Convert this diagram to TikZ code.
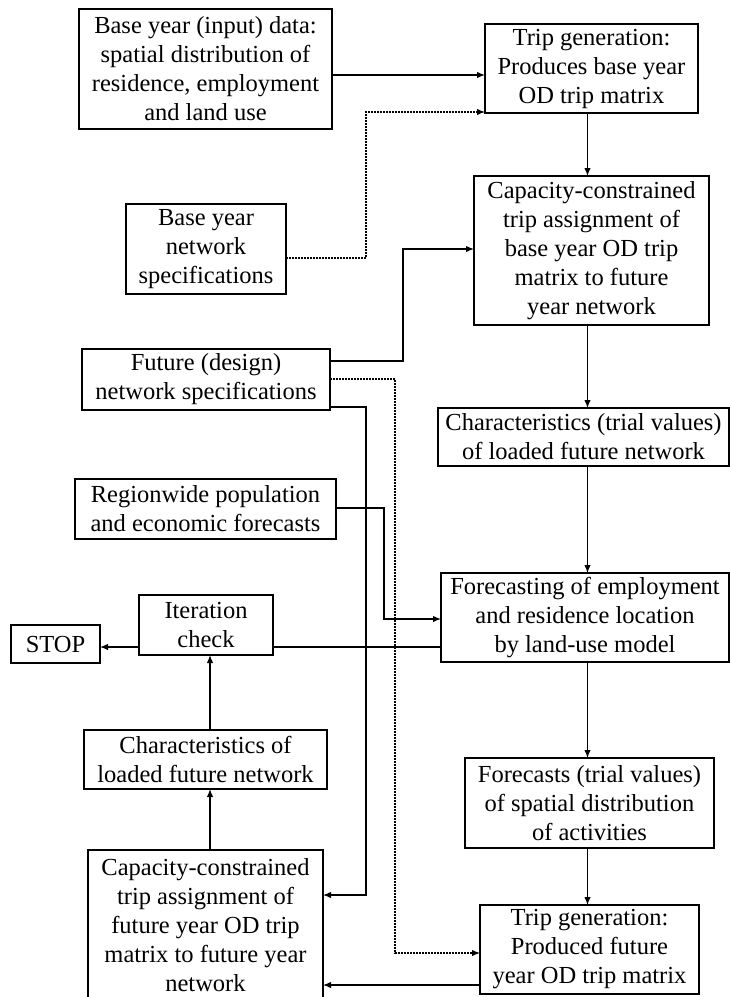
\documentclass[tikz,border=0pt]{standalone}
\usepackage{fontspec}
\setmainfont{Liberation Serif}
\usetikzlibrary{arrows.meta}
\begin{document}
\begin{tikzpicture}[x=1pt,y=-1pt,
  box/.style={draw, line width=1.5pt, align=center, inner sep=0pt, outer sep=0pt,
    font=\fontsize{24.5}{29}\selectfont},
  link/.style={line width=1.3pt, -{Latex[length=8pt,width=6.5pt]}},
  plain/.style={line width=1.3pt},
  dotlink/.style={line width=1.2pt, dash pattern=on 1.8pt off 1.2pt,
    -{Latex[length=8pt,width=6.5pt]}}]
\clip (0,0) rectangle (730,997);
\fill[white] (0,0) rectangle (730,997);

% left column
\node[box, minimum width=253pt, minimum height=120pt] (A) at (205.5,69)
  {Base year (input) data:\\spatial distribution of\\residence, employment\\and land use};
\node[box, minimum width=160pt, minimum height=90pt] (C) at (206,249)
  {Base year\\network\\specifications};
\node[box, minimum width=248pt, minimum height=61pt] (E) at (206,379.5)
  {Future (design)\\network specifications};
\node[box, minimum width=261pt, minimum height=60pt] (G) at (205.5,509)
  {Regionwide population\\and economic forecasts};
\node[box, minimum width=134pt, minimum height=60pt] (I) at (206,625)
  {Iteration\\check};
\node[box, minimum width=89pt, minimum height=38pt] (STOP) at (55.5,644) {STOP};
\node[box, minimum width=243pt, minimum height=59pt] (J) at (205.5,759.5)
  {Characteristics of\\loaded future network};
\node[box, minimum width=235pt, minimum height=150pt] (K) at (205.5,925)
  {Capacity-constrained\\trip assignment of\\future year OD trip\\matrix to future year\\network};

% right column
\node[box, minimum width=213pt, minimum height=89pt] (B) at (591.5,68.5)
  {Trip generation:\\Produces base year\\OD trip matrix};
\node[box, minimum width=235pt, minimum height=149pt] (D) at (591.5,250.5)
  {Capacity-constrained\\trip assignment of\\base year OD trip\\matrix to future\\year network};
\node[box, minimum width=291pt, minimum height=58pt] (F) at (583.5,437)
  {Characteristics (trial values)\\of loaded future network};
\node[box, minimum width=288pt, minimum height=89pt] (H) at (585,617.5)
  {Forecasting of employment\\and residence location\\by land-use model};
\node[box, minimum width=249pt, minimum height=90pt] (L) at (589.5,803)
  {Forecasts (trial values)\\of spatial distribution\\of activities};
\node[box, minimum width=219pt, minimum height=89pt] (M) at (589.5,949.5)
  {Trip generation:\\Produced future\\year OD trip matrix};

% routing levels and bends
\coordinate (xr) at (587.5,0);
\coordinate (xl) at (210,0);
\coordinate (yAB) at (0,75);
\coordinate (yC) at (0,258);
\coordinate (jC) at (366,112);
\coordinate (yE1) at (0,361);
\coordinate (jD) at (403,249);
\coordinate (yE2) at (0,379);
\coordinate (jM) at (395,953);
\coordinate (yE3) at (0,407);
\coordinate (jK) at (366,895);
\coordinate (yG) at (0,508);
\coordinate (jH) at (384,619);
\coordinate (yI) at (0,647);
\coordinate (yMK) at (0,985);

% connectors
\draw[link] (A.east |- yAB) -- (B.west |- yAB);
\draw[dotlink] (C.east |- yC) -| (jC) -- (B.west |- jC);
\draw[link] (B.south -| xr) -- (D.north -| xr);
\draw[link] (E.east |- yE1) -| (jD) -- (D.west |- jD);
\draw[dotlink] (E.east |- yE2) -| (jM) -- (M.west |- jM);
\draw[link] (E.east |- yE3) -| (jK) -- (K.east |- jK);
\draw[link] (D.south -| xr) -- (F.north -| xr);
\draw[link] (F.south -| xr) -- (H.north -| xr);
\draw[link] (G.east |- yG) -| (jH) -- (H.west |- jH);
\draw[plain] (H.west |- yI) -- (I.east |- yI);
\draw[link] (I.west |- yI) -- (STOP.east |- yI);
\draw[link] (H.south -| xr) -- (L.north -| xr);
\draw[link] (L.south -| xr) -- (M.north -| xr);
\draw[link] (M.west |- yMK) -- (K.east |- yMK);
\draw[link] (K.north -| xl) -- (J.south -| xl);
\draw[link] (J.north -| xl) -- (I.south -| xl);
\end{tikzpicture}
\end{document}
